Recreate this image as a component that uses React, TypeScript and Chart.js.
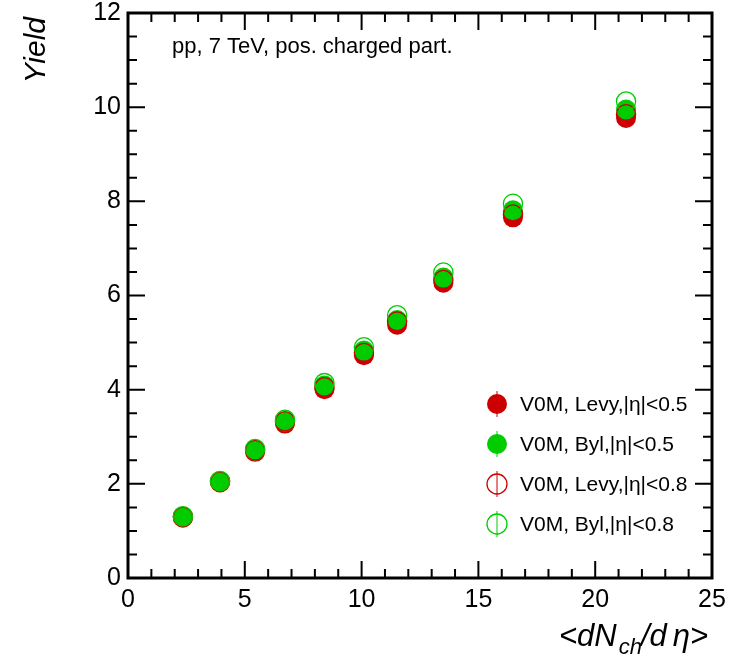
import React, { useEffect, useRef } from "react";
import { Chart, registerables } from "chart.js";

Chart.register(...registerables);

const dNdEta = [2.35, 3.94, 5.44, 6.72, 8.41, 10.1, 11.52, 13.5, 16.48, 21.32];
const levy05 = [1.28, 2.03, 2.68, 3.28, 4.01, 4.73, 5.38, 6.27, 7.66, 9.77];
const byl05 = [1.3, 2.04, 2.71, 3.32, 4.09, 4.83, 5.48, 6.38, 7.81, 9.95];
const levy08 = [1.3, 2.05, 2.72, 3.33, 4.05, 4.78, 5.45, 6.33, 7.72, 9.85];
const byl08 = [1.31, 2.06, 2.74, 3.36, 4.14, 4.9, 5.58, 6.49, 7.95, 10.12];

const legendLabels = ["V0M, Levy,|η|<0.5", "V0M, Byl,|η|<0.5", "V0M, Levy,|η|<0.8", "V0M, Byl,|η|<0.8"];
const xTicks = [0, 5, 10, 15, 20, 25];
const yTicks = [0, 2, 4, 6, 8, 10, 12];

const RED = "#cc0000";
const GREEN = "#00cc00";
const FONT = "'Liberation Sans', Arial, sans-serif";

const toPts = (ys: number[]) => ys.map((y, i) => ({ x: dNdEta[i], y }));

const framePlugin = {
  id: "rootFrame",
  afterDraw(chart: any) {
    const { ctx, chartArea: a, scales } = chart;
    const xs = scales.x;
    const ys = scales.y;
    ctx.save();
    ctx.strokeStyle = "#000";
    ctx.lineWidth = 2;
    ctx.beginPath();
    for (let v = 0; v <= 25.0001; v += 1) {
      const px = xs.getPixelForValue(v);
      const len = Math.abs(v % 5) < 1e-6 ? 17 : 9;
      ctx.moveTo(px, a.bottom);
      ctx.lineTo(px, a.bottom - len);
      ctx.moveTo(px, a.top);
      ctx.lineTo(px, a.top + len);
    }
    for (let v = 0; v <= 12.0001; v += 0.5) {
      const py = ys.getPixelForValue(v);
      const len = Math.abs(v % 2) < 1e-6 ? 17 : 9;
      ctx.moveTo(a.left, py);
      ctx.lineTo(a.left + len, py);
      ctx.moveTo(a.right, py);
      ctx.lineTo(a.right - len, py);
    }
    ctx.stroke();
    ctx.lineWidth = 3;
    ctx.strokeRect(a.left, a.top, a.right - a.left, a.bottom - a.top);

    ctx.fillStyle = "#000";
    ctx.font = `22px ${FONT}`;
    ctx.textBaseline = "middle";
    ctx.textAlign = "left";
    ctx.fillText("pp, 7 TeV, pos. charged part.", 172, 47);

    const colors = [RED, GREEN, RED, GREEN];
    const filled = [true, true, false, false];
    const rowY = [404, 444, 484, 524];
    const mx = 497;
    ctx.font = `21px ${FONT}`;
    for (let i = 0; i < 4; i++) {
      const y = rowY[i];
      ctx.strokeStyle = colors[i];
      ctx.lineWidth = 1;
      ctx.beginPath();
      ctx.moveTo(mx, y - 13);
      ctx.lineTo(mx, y + 13);
      ctx.stroke();
      ctx.beginPath();
      ctx.arc(mx, y, 10, 0, Math.PI * 2);
      if (filled[i]) {
        ctx.fillStyle = colors[i];
        ctx.fill();
      } else {
        ctx.lineWidth = 1.3;
        ctx.stroke();
      }
      ctx.fillStyle = "#000";
      ctx.fillText(legendLabels[i], 520, y + 1);
    }

    ctx.font = `italic 30px ${FONT}`;
    ctx.save();
    ctx.translate(45, 17);
    ctx.rotate(-Math.PI / 2);
    ctx.textAlign = "right";
    ctx.textBaseline = "alphabetic";
    ctx.fillText("Yield", 0, 0);
    ctx.restore();

    ctx.textBaseline = "alphabetic";
    ctx.textAlign = "left";
    let x = 559;
    const base = 646;
    ctx.font = `italic 31px ${FONT}`;
    ctx.fillText("<dN", x, base);
    x += ctx.measureText("<dN").width + 2;
    ctx.font = `italic 22px ${FONT}`;
    ctx.fillText("ch", x, base + 8);
    x += ctx.measureText("ch").width - 1;
    ctx.font = `italic 31px ${FONT}`;
    ctx.fillText("/d", x, base);
    x += ctx.measureText("/d").width + 6;
    ctx.fillText("η>", x, base);
    ctx.restore();
  },
};

export default function App() {
  const ref = useRef<HTMLCanvasElement | null>(null);
  useEffect(() => {
    if (!ref.current) return;
    const mk = (label: string, data: number[], color: string, fill: boolean, order: number) => ({
      label,
      data: toPts(data),
      order,
      pointRadius: fill ? 10 : 9.6,
      pointHoverRadius: 10,
      pointBackgroundColor: fill ? color : "rgba(0,0,0,0)",
      pointBorderColor: color,
      pointBorderWidth: fill ? 0 : 1.3,
      showLine: false,
    });
    const chart = new Chart(ref.current, {
      type: "scatter",
      data: {
        datasets: [
          mk(legendLabels[0], levy05, RED, true, 4),
          mk(legendLabels[1], byl05, GREEN, true, 3),
          mk(legendLabels[2], levy08, RED, false, 2),
          mk(legendLabels[3], byl08, GREEN, false, 1),
        ] as any,
      },
      options: {
        animation: false,
        responsive: false,
        maintainAspectRatio: false,
        layout: { autoPadding: false, padding: { top: 13, right: 28, left: 0, bottom: 0 } },
        plugins: { legend: { display: false }, tooltip: { enabled: false } },
        scales: {
          x: {
            type: "linear",
            min: 0,
            max: 25,
            afterBuildTicks: (s: any) => {
              s.ticks = xTicks.map((v) => ({ value: v }));
            },
            afterFit: (s: any) => {
              s.height = 88;
              s.paddingLeft = 0;
              s.paddingRight = 0;
            },
            grid: { display: false, drawTicks: false },
            border: { display: false },
            ticks: { color: "#000", font: { family: FONT, size: 25 }, padding: 7, maxRotation: 0 },
          },
          y: {
            type: "linear",
            min: 0,
            max: 12,
            afterBuildTicks: (s: any) => {
              s.ticks = yTicks.map((v) => ({ value: v }));
            },
            afterFit: (s: any) => {
              s.width = 128;
              s.paddingTop = 0;
              s.paddingBottom = 0;
            },
            grid: { display: false, drawTicks: false },
            border: { display: false },
            ticks: { color: "#000", font: { family: FONT, size: 25 }, padding: 7 },
          },
        },
      } as any,
      plugins: [framePlugin],
    });
    return () => chart.destroy();
  }, []);
  return (
    <div style={{ position: "fixed", left: 0, top: 0, width: 740, height: 666, background: "#fff" }}>
      <canvas ref={ref} width={740} height={666} style={{ width: 740, height: 666 }} />
    </div>
  );
}
